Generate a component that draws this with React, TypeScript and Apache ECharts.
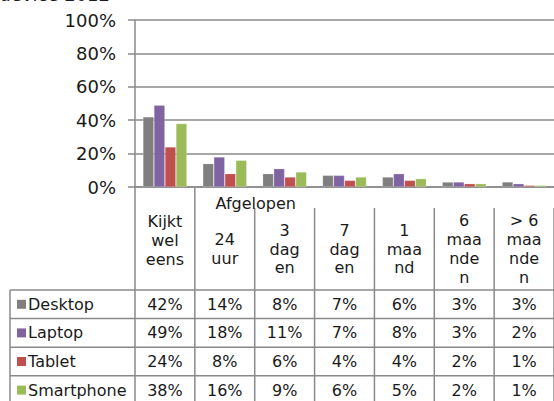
import React, { useEffect, useRef } from "react";
import * as echarts from "echarts";

const titleText = "per device 2012";
const groupLabel = "Afgelopen";
const categories = ["Kijkt wel eens", "24 uur", "3 dagen", "7 dagen", "1 maand", "6 maanden", "> 6 maanden"];
const headerLabels = ["Kijkt\nwel\neens", "24\nuur", "3\ndag\nen", "7\ndag\nen", "1\nmaa\nnd", "6\nmaa\nnde\nn", "> 6\nmaa\nnde\nn"];
const seriesNames = ["Desktop", "Laptop", "Tablet", "Smartphone"];
const desktop = [42, 14, 8, 7, 6, 3, 3];
const laptop = [49, 18, 11, 7, 8, 3, 2];
const tablet = [24, 8, 6, 4, 4, 2, 1];
const smartphone = [38, 16, 9, 6, 5, 2, 1];
const yMax = 100;
const yInterval = 20;
const colors = ["#7f7f7f", "#8064A2", "#C0504D", "#9BBB59"];

const FONT = "DejaVu Sans";
const TEXT = "#1a1a1a";
const LINE = "#8a8a8a";

export default function App() {
  const ref = useRef<HTMLDivElement>(null);
  useEffect(() => {
    const el = ref.current!;
    const chart = echarts.init(el, null, { renderer: "svg" });
    const allSeries = [desktop, laptop, tablet, smartphone];
    const GRID_LEFT = 135;
    const GRID_TOP = 20;
    const GRID_W = 420;
    const GRID_H = 167;
    chart.setOption({
      animation: false,
      grid: { left: GRID_LEFT, top: GRID_TOP, width: GRID_W, height: GRID_H, containLabel: false },
      xAxis: {
        type: "category",
        data: categories,
        axisLabel: { show: false },
        axisTick: { show: false },
        axisLine: { lineStyle: { color: LINE, width: 1.5 } },
      },
      yAxis: {
        type: "value",
        min: 0,
        max: yMax,
        interval: yInterval,
        axisLabel: { formatter: "{value}%", fontSize: 18, fontFamily: FONT, color: TEXT, margin: 19 },
        axisLine: { show: true, lineStyle: { color: LINE, width: 1.5 } },
        axisTick: { show: true, length: 7, lineStyle: { color: LINE, width: 1.5 } },
        splitLine: { lineStyle: { color: LINE, width: 1.5 } },
      },
      series: allSeries.map((d, i) => ({
        type: "bar",
        name: seriesNames[i],
        data: d,
        barWidth: 11,
        barGap: "0%",
        itemStyle: { color: colors[i], borderColor: "rgba(255,255,255,0.35)", borderWidth: 0.6 },
      })),
    });

    const xs = categories.map((c) => chart.convertToPixel({ xAxisIndex: 0 }, c) as number);
    const step = xs[1] - xs[0];
    const y0 = chart.convertToPixel({ yAxisIndex: 0 }, 0) as number;
    const headerBottom = y0 + 103;
    const subTop = y0 + 21;
    const rowH = 28.6;
    const tableLeft = 10;
    const tableBottom = headerBottom + rowH * seriesNames.length;
    const rightEdge = xs[xs.length - 1] + step / 2;
    const els: any[] = [];
    const line = (x1: number, y1: number, x2: number, y2: number) =>
      els.push({ type: "line", shape: { x1, y1, x2, y2 }, style: { stroke: LINE, lineWidth: 1.5 }, silent: true });
    // title (cut off at top, as in the reference)
    els.push({
      type: "text",
      x: 110,
      y: -5.2,
      style: { text: titleText, fontSize: 18, fontFamily: FONT, fill: TEXT, align: "right", verticalAlign: "middle" },
    });
    // horizontal lines
    for (let r = 0; r < seriesNames.length; r++) {
      line(tableLeft, headerBottom + r * rowH, rightEdge, headerBottom + r * rowH);
    }
    // vertical lines
    line(tableLeft, headerBottom, tableLeft, tableBottom + 5);
    for (let i = 0; i <= categories.length; i++) {
      const bx = (i < categories.length ? xs[i] : xs[i - 1] + step) - step / 2;
      line(bx, i < 2 ? y0 : subTop, bx, tableBottom + 5);
    }
    // group label
    els.push({
      type: "text",
      x: xs[1] + step / 2 + 1,
      y: y0 + 16,
      style: { text: groupLabel, fontSize: 16, fontFamily: FONT, fill: TEXT, align: "center", verticalAlign: "middle" },
    });
    // header labels
    headerLabels.forEach((h, i) => {
      const top = i === 0 ? y0 : subTop;
      els.push({
        type: "text",
        x: xs[i],
        y: (top + headerBottom) / 2 + (i === 0 ? 2 : 0),
        style: {
          text: h,
          fontSize: 16,
          lineHeight: 18.7,
          fontFamily: FONT,
          fill: TEXT,
          align: "center",
          verticalAlign: "middle",
        },
      });
    });
    // rows
    seriesNames.forEach((name, r) => {
      const cy = headerBottom + r * rowH + rowH / 2;
      els.push({ type: "rect", shape: { x: 17, y: cy - 4.5, width: 9, height: 9 }, style: { fill: colors[r] } });
      els.push({
        type: "text",
        x: 28,
        y: cy,
        style: { text: name, fontSize: 16, fontFamily: FONT, fill: TEXT, align: "left", verticalAlign: "middle" },
      });
      allSeries[r].forEach((v, i) => {
        els.push({
          type: "text",
          x: xs[i],
          y: cy,
          style: { text: v + "%", fontSize: 16, fontFamily: FONT, fill: TEXT, align: "center", verticalAlign: "middle" },
        });
      });
    });
    chart.setOption({ graphic: { elements: els } });
    return () => chart.dispose();
  }, []);
  return <div ref={ref} style={{ position: "absolute", left: 0, top: 0, width: 554, height: 401, background: "#fff" }} />;
}
